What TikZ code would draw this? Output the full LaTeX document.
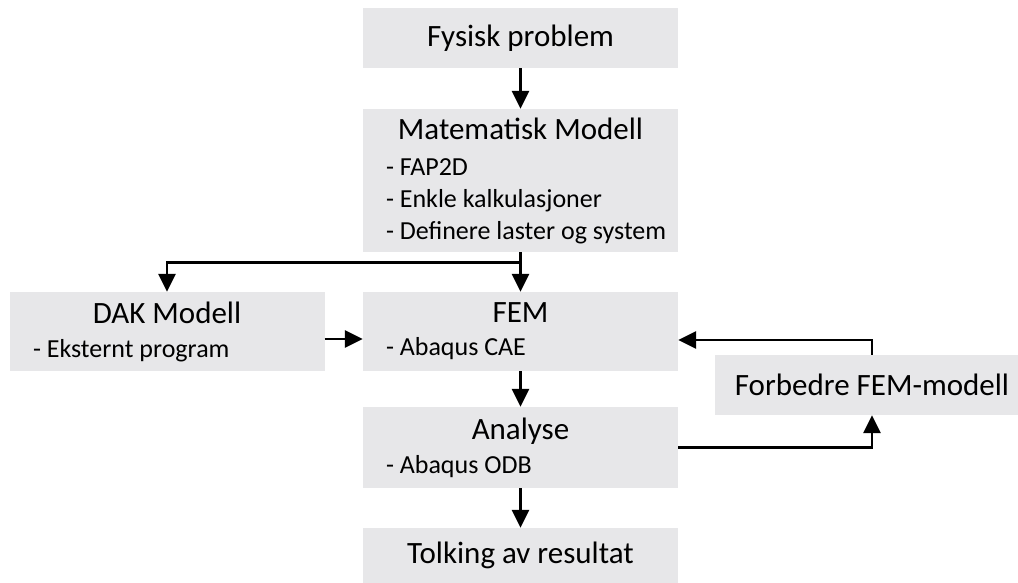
\documentclass[tikz,border=0pt]{standalone}
\usepackage{fontspec}
\setmainfont{Carlito}
\usetikzlibrary{arrows.meta,positioning}
\definecolor{boxgray}{RGB}{231,231,233}
\newcommand{\bigtxt}{\fontsize{31}{36}\selectfont}
\newcommand{\smalltxt}{\fontsize{26}{32}\selectfont}
\newcommand{\punkt}[1]{\hspace*{13pt}- #1}

\begin{document}
\begin{tikzpicture}[%
    >={Triangle[length=18pt,width=17pt]},
    x=1pt, y=1pt,
    node distance=100pt,
    on grid,
    box/.style={fill=boxgray, inner xsep=10pt, inner ysep=0pt, minimum width=315pt, font=\bigtxt},
    listbox/.style={box, text width=295pt, align=flush left, font=\smalltxt},
    flow/.style={->, line width=2.8pt}
    ]
    \useasboundingbox (0,0) rectangle (1018,-583);

    \node[box, minimum height=60pt] (fys) at (520.5,-38) {Fysisk problem};
    \node[listbox, minimum height=143pt] (mat) [below=142.5pt of fys] {\makebox[\linewidth]{\bigtxt Matematisk Modell}\\[4pt] \punkt{FAP2D}\\ \punkt{Enkle kalkulasjoner}\\ \punkt{Definere laster og system}};
    \node[listbox, minimum height=79pt] (fem) [below=151pt of mat] {\makebox[\linewidth]{\bigtxt FEM}\\[1pt] \punkt{Abaqus CAE}};
    \node[listbox, minimum height=79pt, text width=294pt] (dak) [left=353.5pt of fem] {\makebox[\linewidth]{\bigtxt DAK Modell}\\[2pt] \punkt{Eksternt program}};
    \node[listbox, minimum height=81pt] (ana) [below=116pt of fem] {\makebox[\linewidth]{\bigtxt Analyse}\\[2pt] \punkt{Abaqus ODB}};
    \node[box, minimum height=55pt] (tol) [below=108pt of ana] {Tolking av resultat};
    \node[box, minimum height=60pt, minimum width=314pt] (forb) at (872,-385) {Forbedre FEM-modell};

    \draw[flow] (fys) -- (mat);
    \draw[flow] (mat) -- (fem);
    \draw[flow] (mat.south) -- ++(0,-10) -| (dak.north);
    \draw[flow] ([yshift=-7.5pt]dak.east) -- ([yshift=-7.5pt]fem.west);
    \draw[flow] (fem) -- (ana);
    \draw[flow] (ana) -- (tol);
    \draw[flow] (ana.east) -| (forb.south);
    \draw[flow] (forb.north) |- ([yshift=-8.5pt]fem.east);

\end{tikzpicture}
\end{document}
